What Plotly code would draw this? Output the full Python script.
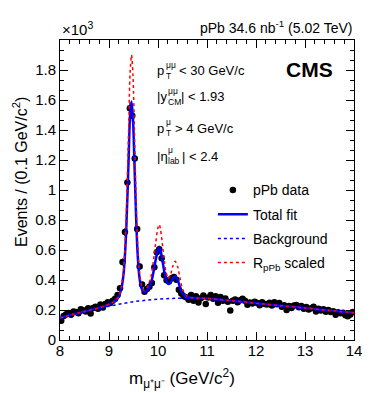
import numpy as np
import plotly.graph_objects as go

# dimuon invariant mass, 0.05 GeV bins from 8 to 14 GeV
mass_bins = np.round(np.arange(8.025, 14.0, 0.05), 3)

# events per bin, in units of 10^3
events = [
    0.128, 0.160, 0.172, 0.180, 0.168, 0.190, 0.186, 0.178, 0.205, 0.198,
    0.190, 0.212, 0.176, 0.214, 0.222, 0.208, 0.236, 0.216, 0.240, 0.252,
    0.246, 0.262, 0.275, 0.300, 0.345, 0.520, 0.720, 1.050, 1.545, 1.495,
    1.210, 0.740, 0.490, 0.370, 0.322, 0.340, 0.355, 0.380, 0.485, 0.585,
    0.605, 0.545, 0.432, 0.398, 0.392, 0.412, 0.420, 0.402, 0.335, 0.310,
    0.292, 0.285, 0.268, 0.300, 0.262, 0.292, 0.250, 0.278, 0.296, 0.240,
    0.284, 0.300, 0.275, 0.292, 0.248, 0.286, 0.262, 0.276, 0.255, 0.196,
    0.262, 0.270, 0.252, 0.265, 0.275, 0.262, 0.235, 0.250, 0.243, 0.255,
    0.246, 0.232, 0.252, 0.240, 0.236, 0.248, 0.230, 0.252, 0.238, 0.246,
    0.222, 0.232, 0.200, 0.226, 0.214, 0.230, 0.234, 0.218, 0.226, 0.208,
    0.220, 0.204, 0.212, 0.222, 0.190, 0.208, 0.196, 0.205, 0.188, 0.200,
    0.186, 0.192, 0.168, 0.185, 0.178, 0.182, 0.165, 0.158, 0.170, 0.186,
]

# fit curves (mass, value in 10^3)
fit_mass = [8.0, 8.5, 8.9, 9.1, 9.2, 9.25, 9.3, 9.35, 9.4, 9.43, 9.46, 9.49,
            9.52, 9.55, 9.58, 9.62, 9.67, 9.72, 9.78, 9.85, 9.9, 9.95, 10.0,
            10.025, 10.05, 10.1, 10.15, 10.2, 10.25, 10.3, 10.35, 10.4, 10.45,
            10.5, 10.6, 10.8, 11.0, 11.5, 12.0, 12.5, 13.0, 13.5, 14.0]
total_fit = [0.148, 0.190, 0.225, 0.255, 0.290, 0.340, 0.450, 0.720, 1.200,
             1.500, 1.590, 1.470, 1.170, 0.850, 0.600, 0.420, 0.340, 0.320,
             0.330, 0.370, 0.440, 0.530, 0.600, 0.615, 0.600, 0.510, 0.420,
             0.375, 0.380, 0.410, 0.425, 0.400, 0.350, 0.310, 0.285, 0.280,
             0.277, 0.262, 0.245, 0.229, 0.213, 0.197, 0.182]
rppb_scaled = [0.148, 0.190, 0.225, 0.255, 0.290, 0.350, 0.480, 0.820, 1.400,
               1.780, 1.900, 1.760, 1.380, 0.980, 0.680, 0.460, 0.360, 0.330,
               0.350, 0.410, 0.510, 0.640, 0.750, 0.770, 0.740, 0.610, 0.480,
               0.410, 0.430, 0.490, 0.525, 0.490, 0.410, 0.340, 0.290, 0.280,
               0.277, 0.262, 0.245, 0.229, 0.213, 0.197, 0.182]

bkg_mass = [8.0, 8.5, 9.0, 9.5, 10.0, 10.5, 11.0, 11.5, 12.0, 12.5, 13.0, 13.5, 14.0]
background = [0.150, 0.188, 0.225, 0.255, 0.272, 0.279, 0.277, 0.262, 0.245,
              0.229, 0.213, 0.197, 0.182]

# kinematic cuts: (symbol, subscript, superscript, rest)
cuts = [
    ("p", "T", "μμ", "< 30 GeV/c"),
    ("|y", "CM", "μμ", "| < 1.93"),
    ("p", "T", "μ", "> 4 GeV/c"),
    ("|η", "lab", "μ", "| < 2.4"),
]

FONT = "Liberation Sans, Arial, Helvetica, sans-serif"

fig = go.Figure()

fig.add_trace(go.Scatter(
    x=mass_bins, y=events, mode="markers", name="pPb data",
    legendgroup="a",
    marker=dict(color="black", size=6.5),
    error_y=dict(type="data", array=np.sqrt(np.array(events) * 1000) / 1000,
                 color="black", thickness=1, width=0),
))
fig.add_trace(go.Scatter(
    x=fit_mass, y=total_fit, mode="lines", name="Total fit", legendgroup="b",
    line=dict(color="#0000ff", width=2.5, shape="spline", smoothing=0.8),
))
fig.add_trace(go.Scatter(
    x=bkg_mass, y=background, mode="lines", name="Background", legendgroup="c",
    line=dict(color="#0000ff", width=1.5, dash="dot", shape="spline"),
))
fig.add_trace(go.Scatter(
    x=fit_mass, y=rppb_scaled, mode="lines", name="R<sub>pPb</sub> scaled",
    legendgroup="d",
    line=dict(color="#ff0000", width=1.5, dash="dot", shape="spline", smoothing=0.8),
))

axis_common = dict(
    showline=True, linecolor="black", linewidth=1, mirror="allticks",
    ticks="inside", ticklen=8, tickcolor="black", showgrid=False, zeroline=False,
    tickfont=dict(family=FONT, size=15, color="black"),
)

fig.update_xaxes(range=[8, 14], dtick=1, tick0=8, ticklabelstandoff=-3,
                 minor=dict(dtick=0.2, ticklen=4, ticks="inside", tickcolor="black"),
                 **axis_common)
fig.update_yaxes(range=[0, 2.0], tickvals=[0, 0.2, 0.4, 0.6, 0.8, 1, 1.2, 1.4, 1.6, 1.8],
                 ticktext=["0", "0.2", "0.4", "0.6", "0.8", "1", "1.2", "1.4", "1.6", "1.8"],
                 minor=dict(tick0=0, dtick=0.2 / 3, ticklen=4, ticks="inside",
                            tickcolor="black"),
                 **axis_common)


# plot frame spans 302 x 300 px; helpers to place text in pixels from its top-left
def px(x):
    return x / 302


def py(y):
    return 1 - y / 300


def text(t, x, y, size, xanchor="left", yanchor="middle", **kw):
    return dict(text=t, x=x, y=y, xref="paper", yref="paper", xanchor=xanchor,
                yanchor=yanchor, showarrow=False,
                font=dict(family=FONT, size=size, color="black"), **kw)


ann = [
    text("×10<sup>3</sup>", 0, 1.0, 15, yanchor="bottom"),
    text("pPb 34.6 nb<sup>-1</sup> (5.02 TeV)", 1.0, 1.0, 14,
         xanchor="right", yanchor="bottom", yshift=2),
    text("<b>CMS</b>", 0.935, 0.903, 21, xanchor="right"),
    text("m<sub>μ⁺μ⁻</sub> (GeV/c<sup>2</sup>)", 0.414, -0.127, 17, xanchor="center"),
    text("Events / (0.1 GeV/c<sup>2</sup>)", -0.136, 0.56, 16, xanchor="center",
         textangle=-90),
]

# cut labels with stacked sub/superscripts
line_y = [31, 57, 88, 116]
sub_x = [107, 109, 107, 109]
rest_x = [120, 122, 116, 123]
for (sym, sub, sup, rest), ly, sx, rx in zip(cuts, line_y, sub_x, rest_x):
    ann.append(text(sym, px(98), py(ly), 13))
    ann.append(text(sub, px(sx), py(ly + 5), 8.5))
    ann.append(text(sup, px(sx), py(ly - 6), 8.5))
    ann.append(text(rest, px(rx), py(ly), 13))

# the page body adds an 8px offset, so the figure is sized to the visible window
fig.update_layout(
    width=366, height=385,
    margin=dict(l=52, r=12, t=32, b=53),
    paper_bgcolor="white", plot_bgcolor="white",
    annotations=ann,
    showlegend=True,
    legend=dict(x=0.52, y=0.552, xanchor="left", yanchor="top",
                bgcolor="rgba(0,0,0,0)", itemwidth=30, tracegroupgap=3,
                font=dict(family=FONT, size=14, color="black")),
)

fig.write_html("out.html")
